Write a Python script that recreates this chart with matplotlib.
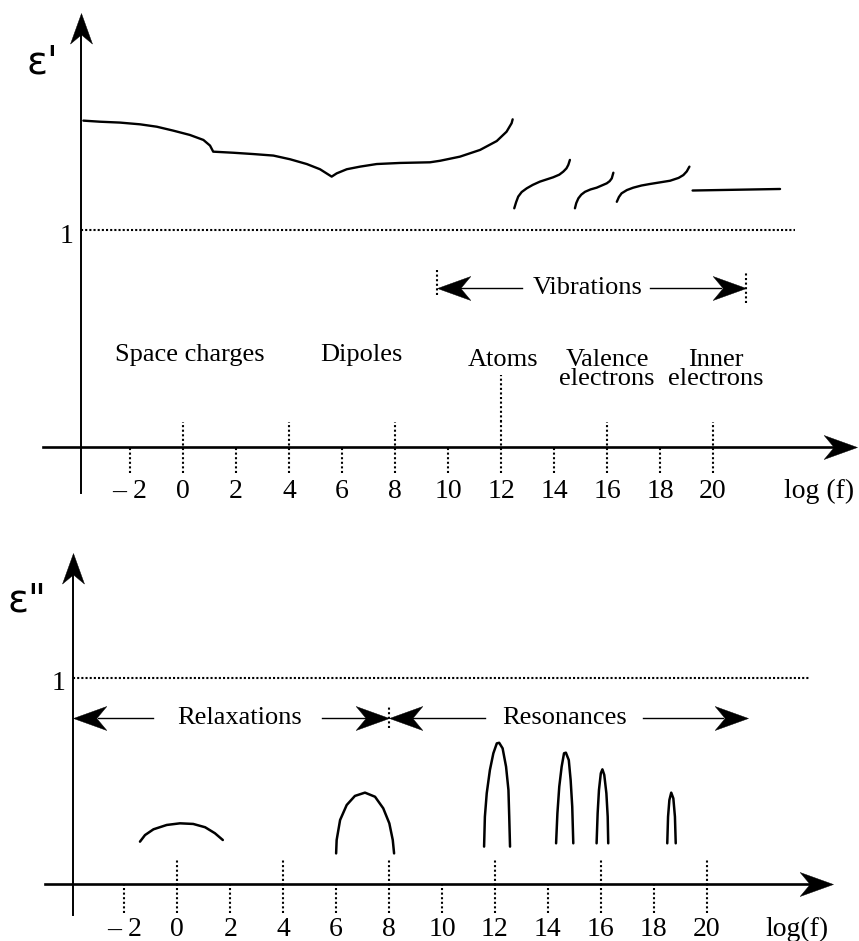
import matplotlib
matplotlib.use("Agg")
import matplotlib.pyplot as plt
from matplotlib.path import Path
from matplotlib.markers import MarkerStyle
from matplotlib.transforms import Affine2D

plt.rcParams["font.family"] = ["Liberation Serif", "DejaVu Serif"]

W, H = 859, 941

# log(f) axis, shared by both panels
TICKS = [-2, 0, 2, 4, 6, 8, 10, 12, 14, 16, 18, 20]
TICK_TEXT = ["– 2", "0", "2", "4", "6", "8", "10", "12", "14", "16", "18", "20"]
LONG_TICKS = [0, 4, 8, 12, 16, 20]          # dotted on both sides of the axis

# eps' : real part, relaxation steps + resonance wiggles
REAL_X = [-3.76, -3.13, -2.38, -1.62, -0.99, -0.37, 0.26, 0.77, 1.02, 1.14,
          1.90, 2.65, 3.41, 4.04, 4.67, 5.17, 5.61, 5.80, 6.18, 6.68, 7.31,
          8.19, 9.32, 9.70, 10.45, 11.21, 11.84, 12.21, 12.40, 12.44]
REAL_Y = [1.504, 1.499, 1.495, 1.487, 1.476, 1.458, 1.438, 1.415, 1.389, 1.361,
          1.356, 1.350, 1.343, 1.326, 1.304, 1.280, 1.246, 1.261, 1.280, 1.292,
          1.304, 1.309, 1.312, 1.319, 1.338, 1.369, 1.410, 1.453, 1.492, 1.510]
VIB_X = [12.50, 12.57, 12.65, 12.78, 12.97, 13.20, 13.47, 13.97, 14.20, 14.35,
         14.47, 14.54, 14.60]
VIB_Y = [1.100, 1.128, 1.154, 1.175, 1.192, 1.208, 1.223, 1.243, 1.255, 1.269,
         1.284, 1.300, 1.323]
VAL_X = [14.79, 14.84, 14.92, 15.03, 15.17, 15.38, 15.61, 15.99, 16.10, 16.18,
         16.24]
VAL_Y = [1.100, 1.124, 1.146, 1.163, 1.176, 1.187, 1.195, 1.215, 1.225, 1.238,
         1.264]
INNER_X = [16.37, 16.45, 16.55, 16.75, 16.99, 17.30, 17.62, 18.38, 18.70,
           18.88, 19.01, 19.11]
INNER_Y = [1.130, 1.152, 1.169, 1.184, 1.195, 1.205, 1.212, 1.227, 1.240,
           1.253, 1.270, 1.292]
HIGH_X = [19.23, 22.53]
HIGH_Y = [1.182, 1.189]

# eps'' : loss peaks
SPACE_X = [-1.41, -1.22, -0.90, -0.40, 0.10, 0.60, 1.05, 1.42, 1.72]
SPACE_Y = [0.207, 0.239, 0.267, 0.288, 0.296, 0.293, 0.277, 0.248, 0.215]
DIP_X = [6.00, 6.02, 6.15, 6.40, 6.71, 7.09, 7.47, 7.78, 8.01, 8.14, 8.19]
DIP_Y = [0.150, 0.215, 0.312, 0.385, 0.429, 0.445, 0.425, 0.369, 0.296, 0.215,
         0.150]
ATOM_X = [11.59, 11.62, 11.69, 11.81, 11.94, 12.07, 12.16, 12.29, 12.42, 12.51,
          12.54, 12.57]
ATOM_Y = [0.183, 0.328, 0.442, 0.555, 0.636, 0.684, 0.687, 0.660, 0.571, 0.458,
          0.328, 0.183]
PK14_X = [14.31, 14.36, 14.43, 14.52, 14.61, 14.68, 14.79, 14.86, 14.92, 14.96]
PK14_Y = [0.199, 0.345, 0.474, 0.571, 0.636, 0.639, 0.603, 0.506, 0.377, 0.199]
PK16_X = [15.84, 15.88, 15.93, 16.00, 16.06, 16.13, 16.21, 16.26, 16.28]
PK16_Y = [0.199, 0.345, 0.458, 0.539, 0.558, 0.531, 0.442, 0.328, 0.199]
PK18_X = [18.51, 18.54, 18.59, 18.66, 18.74, 18.80, 18.83]
PK18_Y = [0.199, 0.328, 0.409, 0.445, 0.417, 0.328, 0.199]

DOT = (0, (1, 1.2))
FS = 19


def head(ax, x, y, angle, ms=48):
    """Swept-back filled arrow head with its tip at (x, y)."""
    p = Path([(0, 0), (-1, 0.36), (-0.7, 0), (-1, -0.36), (0, 0)],
             [Path.MOVETO, Path.LINETO, Path.LINETO, Path.LINETO, Path.CLOSEPOLY])
    m = MarkerStyle(p, transform=Affine2D().rotate_deg(angle))
    ax.plot([x], [y], marker=m, ms=ms, color="k", mew=0.3, clip_on=False)


def frame(ax, y0, x_end, y_top, y_bot, x_left):
    ax.plot([x_left, x_end - 0.6], [0, 0], color="k", lw=1.9, clip_on=False)
    head(ax, x_end, 0, 0)
    ax.plot([y0, y0], [y_bot, y_top - 0.05], color="k", lw=1.4, clip_on=False)
    head(ax, y0, y_top, 90, ms=44)


def ticks(ax, up, down, lab_y):
    for t, s in zip(TICKS, TICK_TEXT):
        hi = up if t in LONG_TICKS else 0
        ax.plot([t, t], [-down, hi], color="k", lw=1.5, ls=DOT)
        ax.text(t, lab_y, s, ha="center", va="center", fontsize=20)


def curve(ax, xs, ys, lw=1.7):
    ax.plot(xs, ys, color="k", lw=lw, solid_capstyle="round",
            solid_joinstyle="round")


fig = plt.figure(figsize=(W / 100, H / 100), dpi=100)
top = fig.add_axes([0, 1 - 520 / H, 1, 520 / H])
bot = fig.add_axes([0, 0, 1, 421 / H])
for ax in (top, bot):
    ax.axis("off")
top.set_xlim(-183 / 26.5, (W - 183) / 26.5)
top.set_ylim((447 - 520) / 217, 447 / 217)
bot.set_xlim(-177.3 / 26.47, (W - 177.3) / 26.47)
bot.set_ylim((884.3 - 941) / 206, (884.3 - 520) / 206)

# ---- upper panel: eps'
frame(top, -3.85, 25.43, 2.0, -0.21, -5.3)
ticks(top, 0.115, 0.12, -0.203)
top.plot([12, 12], [0.115, 0.332], color="k", lw=1.5, ls=DOT)
top.plot([-3.85, 23.1], [1, 1], color="k", lw=1.5, ls=(0, (1, 1)))
for xs, ys in ((REAL_X, REAL_Y), (VIB_X, VIB_Y), (VAL_X, VAL_Y),
               (INNER_X, INNER_Y), (HIGH_X, HIGH_Y)):
    curve(top, xs, ys)
top.text(-5.32, 1.77, "ε'", fontsize=28, ha="center", va="center",
         family=["DejaVu Sans"])
top.text(-4.38, 0.968, "1", fontsize=20, ha="center", va="center")
top.text(0.26, 0.424, "Space charges", fontsize=FS, ha="center", va="center")
top.text(6.75, 0.424, "Dipoles", fontsize=FS, ha="center", va="center")
top.text(12.08, 0.40, "Atoms", fontsize=FS, ha="center", va="center")
top.text(16.0, 0.355, "Valence\nelectrons", fontsize=FS, ha="center",
         va="center", linespacing=0.82)
top.text(20.1, 0.355, "Inner\nelectrons", fontsize=FS, ha="center",
         va="center", linespacing=0.82)
top.text(24.0, -0.203, "log (f)", fontsize=20, ha="center", va="center")

# vibrations span
top.plot([9.57, 9.57], [0.70, 0.816], color="k", lw=1.5, ls=DOT)
top.plot([21.23, 21.23], [0.664, 0.806], color="k", lw=1.5, ls=DOT)
top.plot([10.5, 12.78], [0.731, 0.731], color="k", lw=1.0)
top.plot([17.62, 20.3], [0.731, 0.731], color="k", lw=1.0)
head(top, 9.57, 0.731, 180)
head(top, 21.23, 0.731, 0)
top.text(15.28, 0.731, "Vibrations", fontsize=FS, ha="center", va="center")

# ---- lower panel: eps''
frame(bot, -3.95, 24.78, 1.607, -0.149, -5.0)
ticks(bot, 0.118, 0.139, -0.217)
bot.plot([-3.95, 23.9], [1, 1], color="k", lw=1.5, ls=(0, (1, 1)))
for xs, ys in ((SPACE_X, SPACE_Y), (DIP_X, DIP_Y), (ATOM_X, ATOM_Y),
               (PK14_X, PK14_Y), (PK16_X, PK16_Y), (PK18_X, PK18_Y)):
    curve(bot, xs, ys, lw=1.8)
bot.text(-5.68, 1.38, 'ε"', fontsize=28, ha="center", va="center",
         family=["DejaVu Sans"])
bot.text(-4.5, 0.977, "1", fontsize=20, ha="center", va="center")
bot.text(23.4, -0.217, "log(f)", fontsize=20, ha="center", va="center")

# relaxation / resonance spans
bot.plot([8, 8], [0.76, 0.86], color="k", lw=1.5, ls=DOT)
bot.plot([-3.0, -0.92], [0.806, 0.806], color="k", lw=1.0)
bot.plot([5.46, 7.2], [0.806, 0.806], color="k", lw=1.0)
bot.plot([8.9, 11.63], [0.806, 0.806], color="k", lw=1.0)
bot.plot([17.6, 20.6], [0.806, 0.806], color="k", lw=1.0)
head(bot, -3.95, 0.806, 180)
head(bot, 8.0, 0.806, 0)
head(bot, 8.0, 0.806, 180)
head(bot, 21.56, 0.806, 0)
bot.text(2.37, 0.806, "Relaxations", fontsize=FS, ha="center", va="center")
bot.text(14.64, 0.806, "Resonances", fontsize=FS, ha="center", va="center")

fig.savefig("out.png", dpi=100, facecolor="white")
